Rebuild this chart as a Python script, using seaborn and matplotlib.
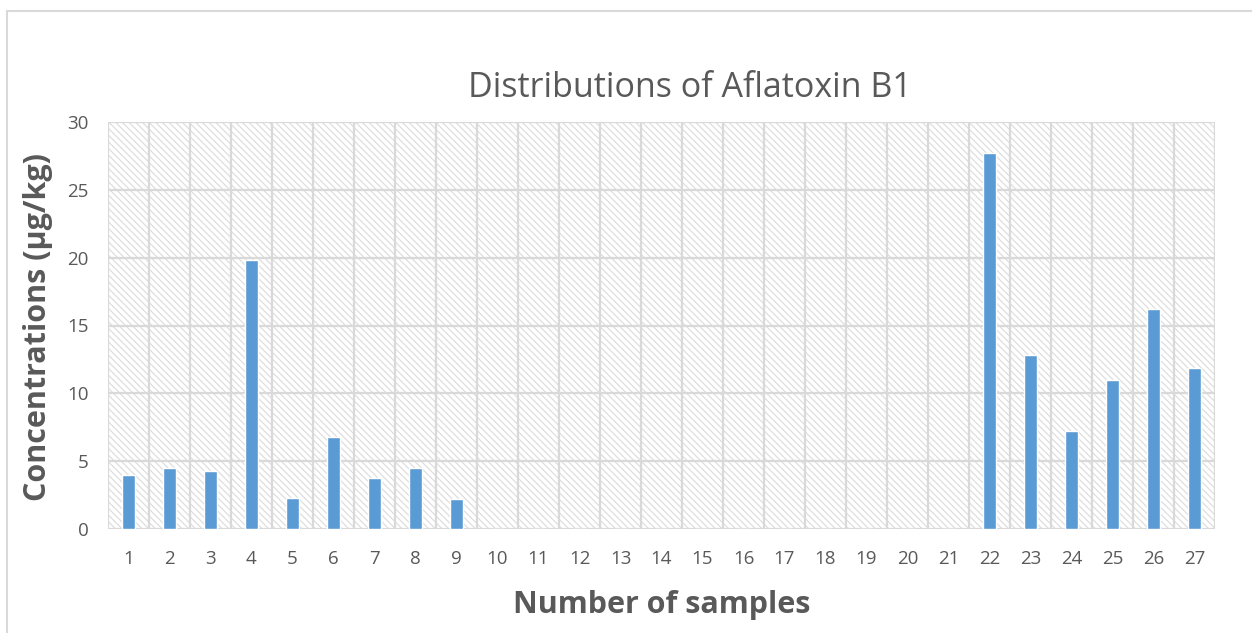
import matplotlib
matplotlib.use("Agg")
import matplotlib.pyplot as plt
from matplotlib.patches import Rectangle
from matplotlib.lines import Line2D
import seaborn as sns
import pandas as pd

# Aflatoxin B1 concentration per sample (µg/kg); zero where not detected
samples = [str(i) for i in range(1, 28)]
concentrations = [4.0, 4.5, 4.3, 19.8, 2.3, 6.8, 3.75, 4.5, 2.2,
                  0, 0, 0, 0, 0, 0, 0, 0, 0, 0, 0, 0,
                  27.7, 12.8, 7.25, 10.95, 16.25, 11.9]
y_ticks = [0, 5, 10, 15, 20, 25, 30]

df = pd.DataFrame({"sample": samples, "conc": concentrations})

sns.set_theme(style="white")
plt.rcParams["font.family"] = ["Open Sans", "DejaVu Sans"]
plt.rcParams["hatch.linewidth"] = 0.9

grid_c = "#d9d9d9"
text_c = "#595959"

W, H = 1252, 633
fig = plt.figure(figsize=(W / 100, H / 100), dpi=100)
ax = fig.add_axes([108 / W, 1 - 529 / H, (1215 - 108) / W, (529 - 122) / H])

# Hatched plot-area background
bg = Rectangle((0, 0), 1, 1, transform=ax.transAxes, facecolor="white",
               edgecolor="#dedede", hatch="\\" * 5, linewidth=0, zorder=0)
ax.add_patch(bg)

sns.barplot(data=df, x="sample", y="conc", color="#5b9bd5", saturation=1,
            width=0.3, ax=ax, zorder=3)

ax.set_xlim(-0.5, len(samples) - 0.5)
ax.set_ylim(0, 30)
ax.set_yticks(y_ticks)

# Gridlines: horizontal at each y tick, vertical at category boundaries
for y in y_ticks:
    ax.axhline(y, color=grid_c, lw=1.6, zorder=1)
for b in range(len(samples) + 1):
    ax.axvline(b - 0.5, color=grid_c, lw=1.6, zorder=1)

for s in ax.spines.values():
    s.set_visible(False)

ax.tick_params(axis="both", length=0, labelsize=13.5, labelcolor=text_c)
ax.tick_params(axis="x", pad=15)
ax.tick_params(axis="y", pad=14)

ax.set_xlabel("Number of samples", fontsize=22, fontweight="bold", color=text_c)
ax.set_ylabel("Concentrations (µg/kg)", fontsize=22, fontweight="bold", color=text_c)
ax.xaxis.set_label_coords((662 - 108) / (1215 - 108), -(605 - 529) / (529 - 122))
ax.xaxis.label.set_va("center")
ax.yaxis.set_label_coords(-(108 - 38) / (1215 - 108), (529 - 327) / (529 - 122))
ax.yaxis.label.set_va("center")

fig.text(690 / W, 1 - 88 / H, "Distributions of Aflatoxin B1", ha="center", va="center",
         fontsize=24.5, color=text_c)

# Chart-area border (top and left edges)
fig.add_artist(Line2D([7 / W, 7 / W], [0, 1 - 11 / H], transform=fig.transFigure,
                      color=grid_c, lw=1.5))
fig.add_artist(Line2D([7 / W, 1], [1 - 11 / H, 1 - 11 / H], transform=fig.transFigure,
                      color=grid_c, lw=1.5))

fig.savefig("out.png", dpi=100, facecolor="white")
